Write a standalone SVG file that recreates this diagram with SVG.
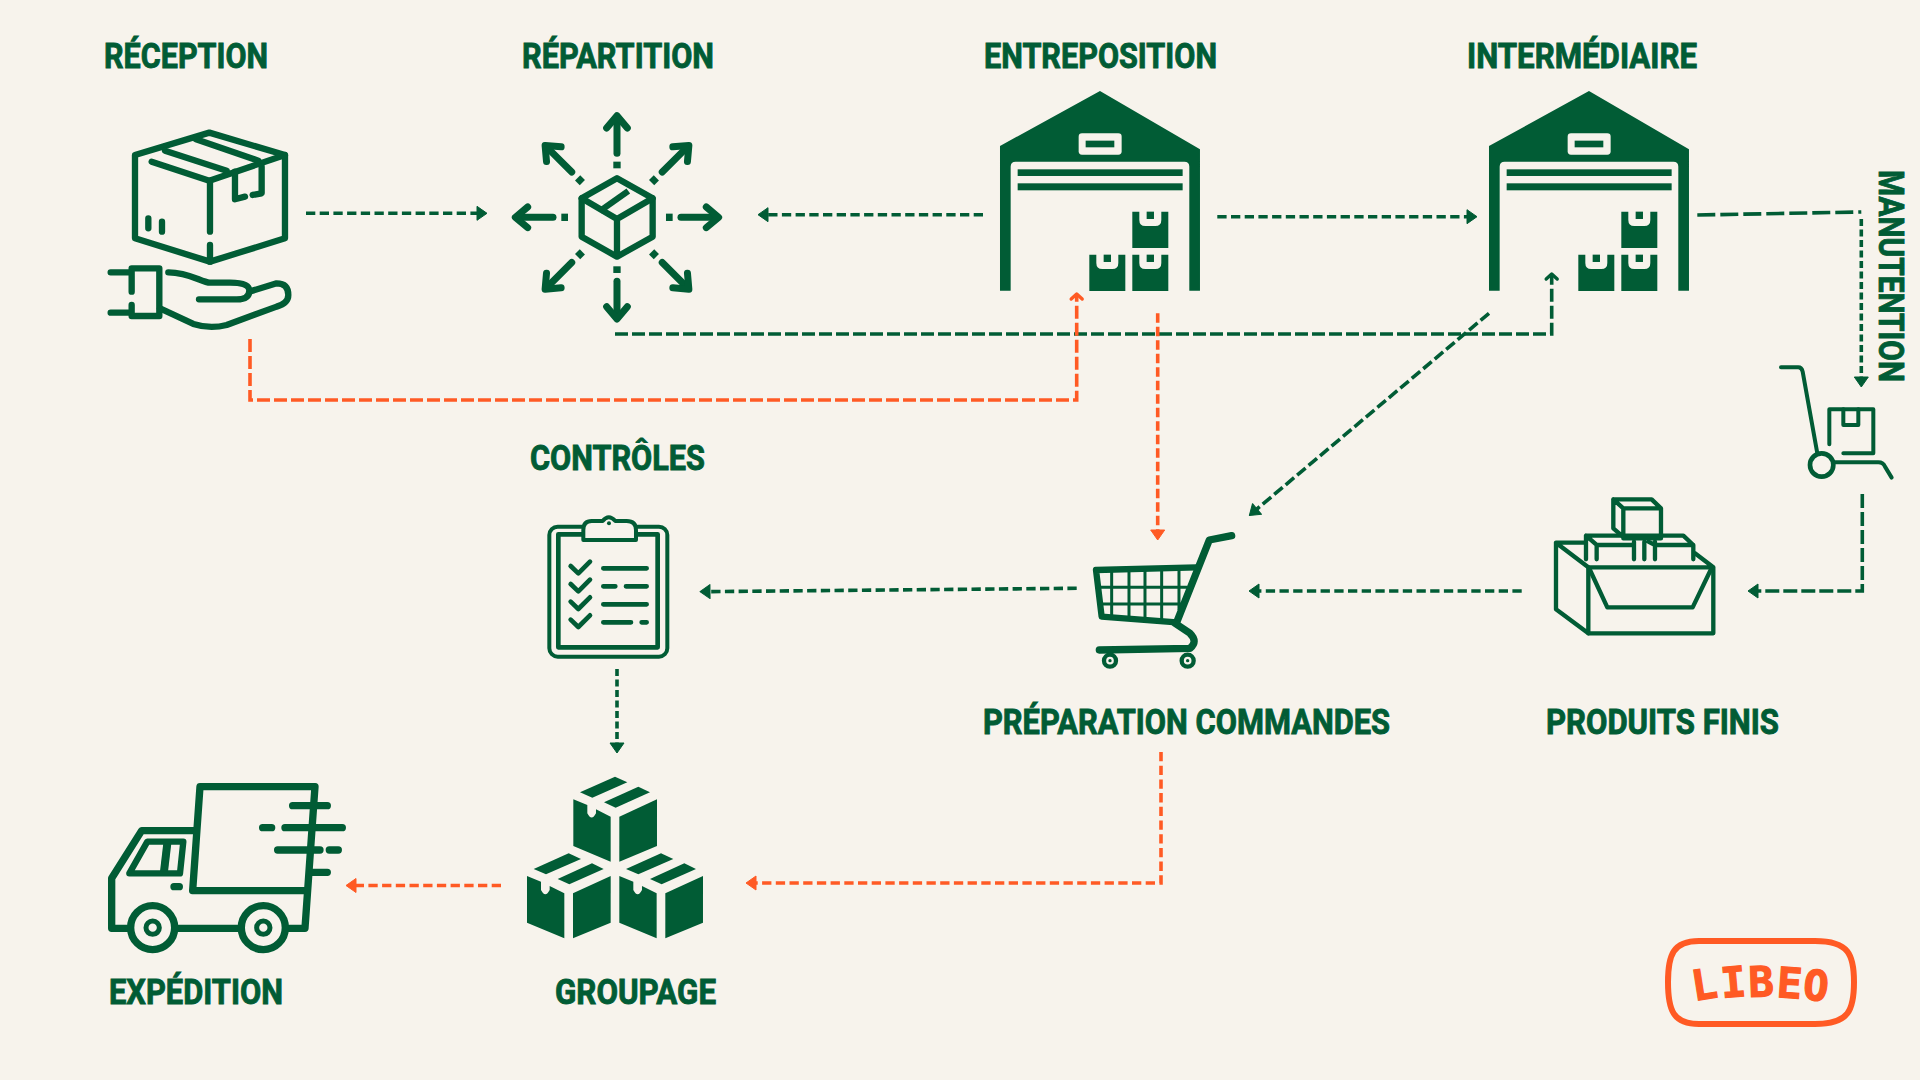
<svg xmlns="http://www.w3.org/2000/svg" width="1920" height="1080" viewBox="0 0 1920 1080">
<style>
.bg{fill:#F7F3EC}
.t{font-family:"Roboto","Liberation Sans",sans-serif;font-weight:700;font-size:35px;fill:#015C35;stroke:#015C35;stroke-width:.9px}
.l{fill:none;stroke:#015C35;stroke-linecap:round;stroke-linejoin:round}
.f{fill:#015C35}
.b{fill:#F7F3EC}
.g{fill:none;stroke:#015C35;stroke-width:3.6}
.o{fill:none;stroke:#FF5A24;stroke-width:3.6}
marker{overflow:visible}
</style>
<defs>
<marker id="tg" markerUnits="userSpaceOnUse" markerWidth="12" markerHeight="14" orient="auto" refX="0" refY="0"><path d="M0-7 10 0 0 7Z" fill="#015C35" stroke="#015C35" stroke-linejoin="round"/></marker>
<marker id="to" markerUnits="userSpaceOnUse" markerWidth="12" markerHeight="14" orient="auto" refX="0" refY="0"><path d="M0-7 10 0 0 7Z" fill="#FF5A24" stroke="#FF5A24" stroke-linejoin="round"/></marker>
<marker id="cg" markerUnits="userSpaceOnUse" markerWidth="12" markerHeight="14" orient="auto" refX="0" refY="0"><path d="M-5-5.5 0 0-5 5.5" fill="none" stroke="#015C35" stroke-width="3.4" stroke-linecap="round" stroke-linejoin="round"/></marker>
<marker id="co" markerUnits="userSpaceOnUse" markerWidth="12" markerHeight="14" orient="auto" refX="0" refY="0"><path d="M-5-5.5 0 0-5 5.5" fill="none" stroke="#FF5A24" stroke-width="3.4" stroke-linecap="round" stroke-linejoin="round"/></marker>
<g id="ray">
<rect x="-11" y="-167" width="22" height="20" class="f"/>
<path d="M0-192V-300" class="l" stroke-width="21" stroke-linecap="butt"/>
<path d="M-31-268 0-305 31-268" class="l" stroke-width="21"/>
</g>
<g id="crate">
<path fill-rule="evenodd" class="f" d="M517 575H538V600Q538 618 556 618H586Q604 618 604 600V575H625V684H517Z"/>
<rect x="560" y="575" width="22" height="22" class="f"/>
</g>
<g id="house">
<path class="f" d="M420 213 720 388V812H688V440Q688 425 673 425H167Q152 425 152 440V812H120V378Z"/>
<rect x="356" y="340" width="129" height="64" rx="10" class="b"/>
<rect x="377" y="362" width="86" height="20" class="f"/>
<rect x="173" y="448" width="495" height="20" class="f"/>
<rect x="173" y="490" width="495" height="21" class="f"/>
<use href="#crate"/>
<use href="#crate" y="129"/>
<use href="#crate" x="-129" y="129"/>
</g>
<g id="bigbox">
<path class="f" d="M190 118 232 135V160Q245 185 258 160V148L302 170V305L190 258Z"/>
<path class="f" d="M328 170 441 118V258L328 305Z"/>
<path class="f" d="M210 97 315 50 352 67 247 113Z"/>
<path class="f" d="M282 127 385 80 420 97 317 143Z"/>
</g>
</defs>
<rect width="1920" height="1080" class="bg"/>

<g id="connectors">
<path class="g" stroke-dasharray="9.3 4.4" d="M306 213.3H477" marker-end="url(#tg)"/>
<path class="g" stroke-dasharray="9.3 4.4" d="M983 214.7H768" marker-end="url(#tg)"/>
<path class="g" stroke-dasharray="9.3 4.4" d="M1217.3 216.7H1467" marker-end="url(#tg)"/>
<path class="g" stroke-dasharray="13 4" d="M615 334H1551.7V274" marker-end="url(#cg)"/>
<path class="o" stroke-dasharray="13 4" d="M250 339V400H1076.7V294" marker-end="url(#co)"/>
<path class="o" stroke-dasharray="9.5 4" d="M1157.7 313.3V530" marker-end="url(#to)"/>
<path class="g" stroke-dasharray="11 4" d="M1489 313.3 1257 509" marker-end="url(#tg)"/>
<path class="g" stroke-dasharray="18 5" d="M1697.3 215 1861.3 212"/>
<path class="g" stroke-dasharray="7 3.5" d="M1861.3 219V377" marker-end="url(#tg)"/>
<path class="g" stroke-dasharray="14 4" d="M1862.3 494V591H1758" marker-end="url(#tg)"/>
<path class="g" stroke-dasharray="9.3 4.4" d="M1521.7 591H1259" marker-end="url(#tg)"/>
<path class="g" stroke-dasharray="9.3 4.4" d="M1076.7 588.3 710 591.6" marker-end="url(#tg)"/>
<path class="g" stroke-dasharray="7 3.5" d="M617 669V743" marker-end="url(#tg)"/>
<path class="o" stroke-dasharray="9.3 4.4" d="M501 885.5H356" marker-end="url(#to)"/>
<path class="o" stroke-dasharray="9.3 4.4" d="M1161 752V883H756" marker-end="url(#to)"/>
</g>

<g id="reception">
<text class="t" x="104" y="68" textLength="164" lengthAdjust="spacingAndGlyphs">RÉCEPTION</text>
<g transform="translate(80 20) scale(.3333)">
<g class="l" stroke-width="19">
<path d="M165 405 388 338 615 405V655L390 725 165 655Z"/>
<path d="M615 405 388 482 215 425"/>
<path d="M390 482V635M390 675V725"/>
<path d="M255 392 440 452M348 358 535 422"/>
<path d="M465 455V538L495 530M545 440V520L518 525"/>
<path d="M205 595V625M246 605V635"/>
<path d="M155 815V745H238V888H155V855M92 757H155M92 878H155"/>
<path d="M265 757C330 757 365 788 390 788H450Q508 788 508 812 508 838 470 838H357M508 815 590 790Q625 790 625 825 625 850 590 860L440 915Q390 928 340 912L240 865"/>
</g>
</g>
</g>

<g id="repartition">
<text class="t" x="522" y="68" textLength="192" lengthAdjust="spacingAndGlyphs">RÉPARTITION</text>
<g transform="translate(480 20) scale(.3333)">
<g class="l" stroke-width="19">
<path d="M411 475 518 535V650L411 710 305 650V535Z"/>
<path d="M305 535 411 597 518 535M411 597V700"/>
<path d="M360 573 445 513" stroke-linecap="butt"/>
</g>
<g transform="translate(411 592)">
<use href="#ray"/>
<use href="#ray" transform="rotate(45)"/>
<use href="#ray" transform="rotate(90)"/>
<use href="#ray" transform="rotate(135)"/>
<use href="#ray" transform="rotate(180)"/>
<use href="#ray" transform="rotate(225)"/>
<use href="#ray" transform="rotate(270)"/>
<use href="#ray" transform="rotate(315)"/>
</g>
</g>
</g>

<g id="entreposition">
<text class="t" x="984" y="68" textLength="233" lengthAdjust="spacingAndGlyphs">ENTREPOSITION</text>
<use href="#house" transform="translate(960 20) scale(.3333)"/>
</g>

<g id="intermediaire">
<text class="t" x="1467" y="68" textLength="230" lengthAdjust="spacingAndGlyphs">INTERMÉDIAIRE</text>
<use href="#house" transform="translate(1449 20) scale(.3333)"/>
</g>

<g id="manutention">
<text class="t" transform="translate(1879 170) rotate(90)" textLength="212" lengthAdjust="spacingAndGlyphs">MANUTENTION</text>
<g transform="translate(1770 355) scale(.3333)" class="l" stroke-width="12">
<path d="M33 37H85Q95 37 98 50L142 295"/>
<circle cx="155" cy="330" r="35" stroke-width="14"/>
<path d="M195 322H325Q340 322 345 335L365 368"/>
<path d="M178 268V163H310V295H220"/>
<path d="M220 163V210H265V163"/>
</g>
</g>

<g id="produits-finis">
<text class="t" x="1546" y="734" textLength="233" lengthAdjust="spacingAndGlyphs">PRODUITS FINIS</text>
<g transform="translate(1500 470) scale(.3333)" class="l" stroke-width="13">
<path d="M168 218V418L265 490V292L168 218H255"/>
<path d="M265 292H640V490H265M585 250 640 292"/>
<path d="M270 300 322 412H578L632 300"/>
<path d="M258 268V197H550L580 225V268M258 197 290 225V268M290 225H402M402 215V268M433 215V268M465 215V268M465 225H580M445 215 465 225"/>
<path d="M340 88H455L483 115V205H375L340 175ZM340 88 370 115H483M370 115V205"/>
</g>
</g>

<g id="preparation-commandes">
<text class="t" x="983" y="734" textLength="407" lengthAdjust="spacingAndGlyphs">PRÉPARATION COMMANDES</text>
<g transform="translate(1050 500) scale(.3333)" class="l">
<g stroke-width="9" stroke-linecap="butt">
<path d="M185 212V350M237 212V352M285 212V355M335 210V358M387 210V330M145 262H412M150 312H395"/>
</g>
<path stroke-width="19" d="M138 210 440 202M138 210 155 350 380 367"/>
<path stroke-width="22" d="M545 107 478 120 380 367"/>
<path stroke-width="22" d="M375 370 420 400Q445 425 420 445L148 450"/>
<circle cx="180" cy="482" r="18" stroke-width="13"/>
<circle cx="413" cy="482" r="18" stroke-width="13"/>
<circle cx="180" cy="482" r="5" class="f" stroke="none"/>
<circle cx="413" cy="482" r="5" class="f" stroke="none"/>
</g>
</g>

<g id="controles">
<text class="t" x="530" y="470" textLength="175" lengthAdjust="spacingAndGlyphs">CONTRÔLES</text>
<g transform="translate(510 490) scale(.3333)" class="l">
<rect x="118" y="110" width="354" height="390" rx="25" stroke-width="12"/>
<rect x="145" y="133" width="298" height="339" stroke-width="14"/>
<path class="b" stroke="#015C35" stroke-width="12" d="M220 150V120Q220 93 245 93H278Q296 70 316 93H350Q378 93 378 120V150Z"/>
<circle cx="297" cy="100" r="6" class="f" stroke="none"/>
<g stroke-width="14">
<path d="M182 228 205 250 240 215M182 282 205 304 240 269M182 335 205 357 240 322M182 389 205 411 240 376"/>
<path d="M280 235H410M280 289H316M348 289H410M280 343H410M280 397H363M395 397H410"/>
</g>
</g>
</g>

<g id="groupage">
<text class="t" x="555" y="1004" textLength="161" lengthAdjust="spacingAndGlyphs">GROUPAGE</text>
<g transform="translate(510 760) scale(.3333)">
<use href="#bigbox"/>
<use href="#bigbox" x="-139" y="230"/>
<use href="#bigbox" x="138" y="230"/>
</g>
</g>

<g id="expedition">
<text class="t" x="109" y="1004" textLength="174" lengthAdjust="spacingAndGlyphs">EXPÉDITION</text>
<g transform="translate(90 760) scale(.3333)" class="l" stroke-width="22">
<path d="M115 505H65V355L155 212H320M265 505H445M595 505H645L675 80H330L308 392H650"/>
<path stroke-width="19" d="M118 340 172 245H280L270 340Z"/>
<path stroke-width="24" stroke-linecap="butt" d="M232 250 222 335"/>
<path d="M252 380H268"/>
<circle cx="188" cy="503" r="66"/>
<circle cx="520" cy="503" r="66"/>
<circle cx="188" cy="503" r="20" stroke-width="15"/>
<circle cx="520" cy="503" r="20" stroke-width="15"/>
<path d="M608 137H712M518 203H545M585 203H757M563 270H690M718 270H745M665 337H712"/>
</g>
</g>

<g id="logo">
<path fill="none" stroke="#FF5A24" stroke-width="6" d="M1699 941H1815C1849 941 1854 955 1854 982 1854 1010 1849 1024 1815 1024H1699C1673 1024 1668 1010 1668 982 1668 955 1673 941 1699 941Z"/>
<text font-family="'DejaVu Sans Mono','Liberation Mono',monospace" font-weight="700" font-size="42" fill="#FF5A24" stroke="#FF5A24" stroke-width="1.2" x="1694 1722 1749 1776 1802" y="1001 998 997 997 999" rotate="-9 -5 -2 4 6">LIBEO</text>
</g>
</svg>
